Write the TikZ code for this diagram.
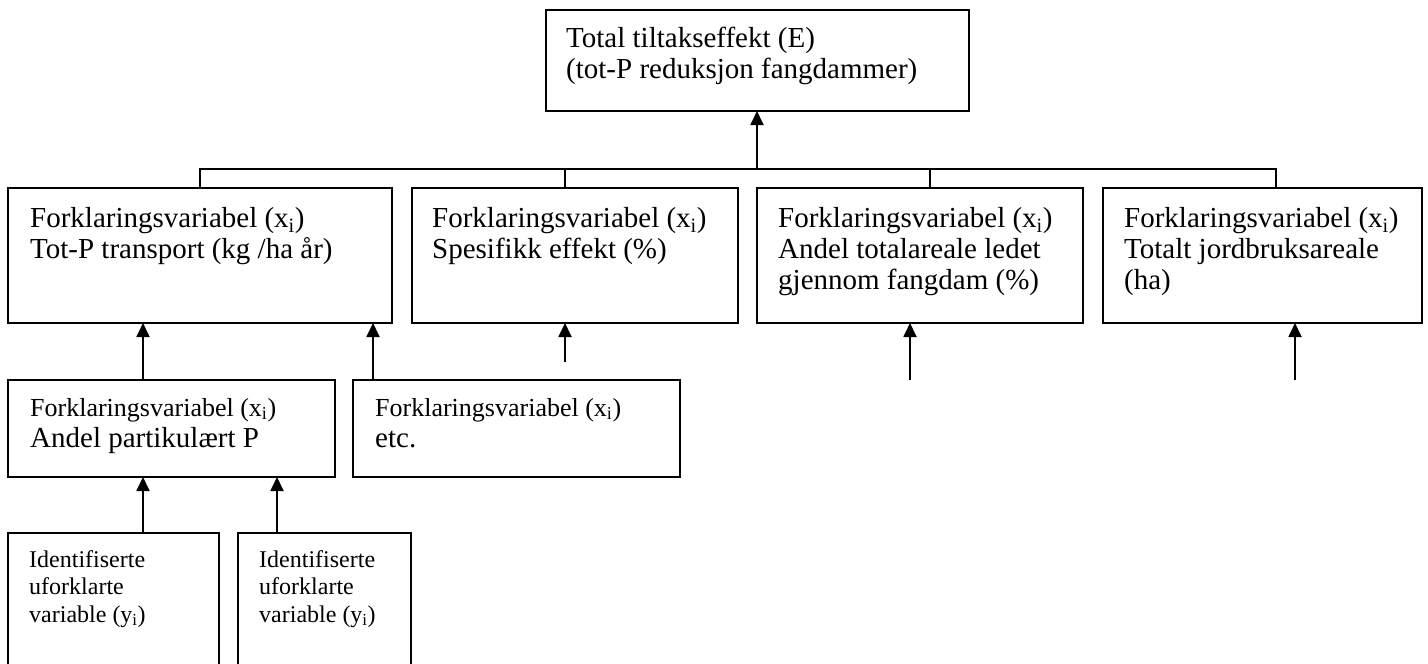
\documentclass[tikz,border=0pt]{standalone}
\usepackage{fontspec}
\setmainfont{Liberation Serif}
\usetikzlibrary{arrows.meta}
\newcommand{\fl}{\rule{0pt}{22pt}}
\newcommand{\fs}{\rule{0pt}{19pt}}
\newcommand{\xsub}{(x\textsubscript{i})}
\newcommand{\ysub}{(y\textsubscript{i})}
\begin{document}
\begin{tikzpicture}[x=1pt,y=-1pt,
  box/.style={draw, line width=1.8pt, rectangle, anchor=north west, inner sep=0pt, outer sep=0pt},
  lbl/.style={anchor=north west, inner sep=0pt, align=left, font=\fontsize{29}{31}\selectfont},
  lblsmall/.style={anchor=north west, inner sep=0pt, align=left, font=\fontsize{24}{27.5}\selectfont},
  conn/.style={line width=1.8pt},
  arr/.style={line width=1.8pt, -{Triangle[length=14pt,width=13pt]}}
]
\useasboundingbox (0,0) rectangle (1428,664);
\path[clip] (0,0) rectangle (1428,664);
\fill[white] (0,0) rectangle (1428,664);

% boxes
\node[box, minimum width=423pt, minimum height=101pt] (top) at (546,10) {};
\node[box, minimum width=384pt, minimum height=135pt] (b1) at (8,188) {};
\node[box, minimum width=326pt, minimum height=135pt] (b2) at (412,188) {};
\node[box, minimum width=326pt, minimum height=135pt] (b3) at (757,188) {};
\node[box, minimum width=319pt, minimum height=135pt] (b4) at (1103,188) {};
\node[box, minimum width=327pt, minimum height=97pt] (c1) at (8,380) {};
\node[box, minimum width=327pt, minimum height=97pt] (c2) at (353,380) {};
\node[box, minimum width=211pt, minimum height=151pt] (d1) at (8,533) {};
\node[box, minimum width=173pt, minimum height=151pt] (d2) at (238,533) {};

% texts
\node[lbl] (ttop) at (566,25) {\fl Total tiltakseffekt (E)\\(tot-P reduksjon fangdammer)};
\node[lbl] (tb1) at (30,205) {\fl Forklaringsvariabel \xsub\\Tot-P transport (kg /ha år)};
\node[lbl] (tb2) at (432,205) {\fl Forklaringsvariabel \xsub\\Spesifikk effekt (\%)};
\node[lbl] (tb3) at (778,205) {\fl Forklaringsvariabel \xsub\\Andel totalareale ledet\\gjennom fangdam (\%)};
\node[lbl] (tb4) at (1124,205) {\fl Forklaringsvariabel \xsub\\Totalt jordbruksareale\\(ha)};
\node[lbl] (tc1) at (30,394) {{\fontsize{26}{29}\selectfont\fl Forklaringsvariabel \xsub}\\Andel partikulært P};
\node[lbl] (tc2) at (375,394) {{\fontsize{26}{29}\selectfont\fl Forklaringsvariabel \xsub}\\etc.};
\node[lblsmall] (td1) at (29,548) {\fs Identifiserte\\uforklarte\\variable \ysub};
\node[lblsmall] (td2) at (259,548) {\fs Identifiserte\\uforklarte\\variable \ysub};

% bus
\coordinate (j1) at (200,169);
\coordinate (j2) at (565,169);
\coordinate (j3) at (930,169);
\coordinate (j4) at (1276,169);
\coordinate (jt) at (757,169);
\draw[conn] (j1 |- b1.north) -- (j1) -- (j4) -- (j4 |- b4.north);
\draw[conn] (j2) -- (j2 |- b2.north);
\draw[conn] (j3) -- (j3 |- b3.north);
\draw[arr] (jt) -- (jt |- top.south);

% lower arrows
\coordinate (xa) at (143,0);
\coordinate (xb) at (373,0);
\coordinate (xc) at (277,0);
\draw[arr] (xa |- c1.north) -- (xa |- b1.south);
\draw[arr] (xb |- c2.north) -- (xb |- b1.south);
\draw[arr] (xa |- d1.north) -- (xa |- c1.south);
\draw[arr] (xc |- d2.north) -- (xc |- c1.south);
\coordinate (f2) at (565,362);
\coordinate (f3) at (910,380);
\coordinate (f4) at (1295,380);
\draw[arr] (f2) -- (f2 |- b2.south);
\draw[arr] (f3) -- (f3 |- b3.south);
\draw[arr] (f4) -- (f4 |- b4.south);
\end{tikzpicture}
\end{document}
